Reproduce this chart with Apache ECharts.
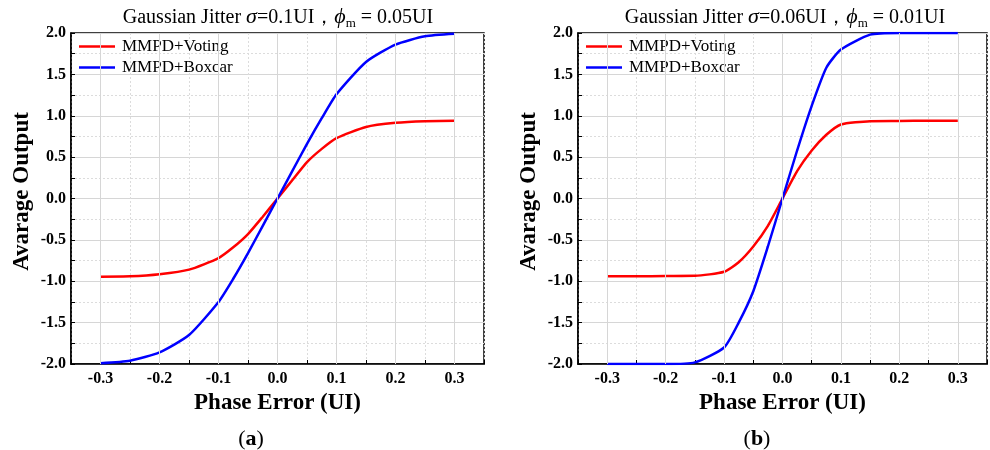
<!DOCTYPE html>
<html>
<head>
<meta charset="utf-8">
<script src="https://cdn.jsdelivr.net/npm/echarts@6/dist/echarts.min.js"></script>
<style>
  html, body { margin: 0; padding: 0; background: #fff; }
  #main { width: 990px; height: 450px; }
</style>
</head>
<body>
<div id="main"></div>
<script>
// phase error points (UI)
var phase = [-0.3, -0.25, -0.2, -0.15, -0.1, -0.075, -0.05, -0.025, 0, 0.025, 0.05, 0.075, 0.1, 0.15, 0.2, 0.25, 0.3];

// (a) sigma=0.1UI, phi_m=0.05UI
var votingA = [-0.945, -0.94, -0.915, -0.86, -0.72, -0.59, -0.43, -0.22, 0, 0.22, 0.44, 0.6, 0.73, 0.865, 0.915, 0.935, 0.94];
var boxcarA = [-1.99, -1.96, -1.86, -1.65, -1.25, -0.97, -0.66, -0.33, 0, 0.33, 0.66, 0.97, 1.26, 1.65, 1.86, 1.96, 1.99];

// (b) sigma=0.06UI, phi_m=0.01UI
var votingB = [-0.94, -0.94, -0.937, -0.935, -0.885, -0.77, -0.58, -0.33, 0, 0.33, 0.58, 0.77, 0.895, 0.935, 0.937, 0.94, 0.94];
var boxcarB = [-2.0, -2.0, -2.0, -1.98, -1.8, -1.5, -1.12, -0.58, 0, 0.58, 1.12, 1.58, 1.8, 1.98, 2.0, 2.0, 2.0];

// major x grid / tick labels
var xMajor = [-0.3, -0.2, -0.1, 0, 0.1, 0.2, 0.3];
var xTickLabels = ['-0.3', '-0.2', '-0.1', '0.0', '0.1', '0.2', '0.3'];

var serif = 'Liberation Serif, Times New Roman, serif';

function pairs(ys) {
  return phase.map(function (x, i) { return [x, ys[i]]; });
}

function xLabel(v) {
  for (var i = 0; i < xMajor.length; i++) {
    if (Math.abs(v - xMajor[i]) < 1e-6) return xTickLabels[i];
  }
  return '';
}

function makeXAxis(idx) {
  return {
    gridIndex: idx,
    type: 'value',
    min: -0.35,
    max: 0.35,
    interval: 0.05,
    name: 'Phase Error (UI)',
    nameLocation: 'middle',
    nameGap: 28,
    nameTextStyle: { fontFamily: serif, fontWeight: 'bold', fontSize: 23, color: '#000' },
    axisLine: { onZero: false, lineStyle: { color: '#000', width: 1.5 } },
    axisTick: { inside: true, length: 4, lineStyle: { color: '#000', width: 1 } },
    axisLabel: { formatter: xLabel, fontFamily: serif, fontWeight: 'bold', fontSize: 16, color: '#000', margin: 7 },
    splitLine: { show: true, lineStyle: { color: '#dcdcdc', type: [2, 2], width: 1 } }
  };
}

function makeYAxis(idx) {
  return {
    gridIndex: idx,
    type: 'value',
    min: -2,
    max: 2,
    interval: 0.5,
    name: 'Avarage Output',
    nameLocation: 'middle',
    nameGap: 37,
    nameTextStyle: { fontFamily: serif, fontWeight: 'bold', fontSize: 23, color: '#000', padding: [0, 0, 0, 14] },
    axisLine: { onZero: false, lineStyle: { color: '#000', width: 1.5 } },
    axisTick: { inside: true, length: 4, lineStyle: { color: '#000', width: 1 } },
    minorTick: { show: true, splitNumber: 2, length: 4, lineStyle: { color: '#000', width: 1 } },
    axisLabel: {
      formatter: function (v) { return v.toFixed(1); },
      fontFamily: serif, fontWeight: 'bold', fontSize: 16, color: '#000', margin: 5
    },
    splitLine: { show: true, lineStyle: { color: '#d6d6d6', width: 1 } },
    minorSplitLine: { show: true, lineStyle: { color: '#dcdcdc', type: [2, 2], width: 1 } }
  };
}

function majorGrid(idx) {
  return {
    type: 'line',
    xAxisIndex: idx,
    yAxisIndex: idx,
    data: [],
    silent: true,
    z: 1,
    markLine: {
      silent: true,
      symbol: 'none',
      label: { show: false },
      animation: false,
      lineStyle: { color: '#d6d6d6', type: 'solid', width: 1 },
      data: xMajor.map(function (v) { return { xAxis: v }; })
    }
  };
}

function curve(name, idx, ys, color) {
  return {
    name: name,
    type: 'line',
    xAxisIndex: idx,
    yAxisIndex: idx,
    data: pairs(ys),
    showSymbol: false,
    smooth: 0.2,
    z: 3,
    lineStyle: { color: color, width: 2.5 },
    itemStyle: { color: color }
  };
}

function titleText(sig, phi) {
  return '{n|Gaussian Jitter }{i|σ}{n|=' + sig + 'UI，}{i|ϕ}{s|m}{n| = ' + phi + 'UI}';
}

var titleRich = {
  n: { fontFamily: serif, fontSize: 20, fontWeight: 'normal', color: '#000' },
  i: { fontFamily: serif, fontSize: 22, fontWeight: 'normal', fontStyle: 'italic', color: '#000' },
  s: { fontFamily: serif, fontSize: 13, fontWeight: 'normal', color: '#000', padding: [12, 0, 0, 0] }
};

var capRich = {
  p: { fontFamily: serif, fontSize: 22, fontWeight: 'normal', color: '#000' },
  b: { fontFamily: serif, fontSize: 22, fontWeight: 'bold', color: '#000' }
};

var legendBase = {
  orient: 'vertical',
  icon: 'rect',
  itemWidth: 36,
  itemHeight: 2.5,
  itemGap: 4,
  textStyle: { fontFamily: serif, fontSize: 17, color: '#000', padding: [0, 0, 0, 2] },
  data: ['MMPD+Voting', 'MMPD+Boxcar']
};

var chart = echarts.init(document.getElementById('main'), null, { renderer: 'canvas' });

var option = {
  animation: false,
  backgroundColor: '#fff',
  title: [
    { text: titleText('0.1', '0.05'), left: 273, top: 0, textAlign: 'center', textStyle: { rich: titleRich } },
    { text: titleText('0.06', '0.01'), left: 780, top: 0, textAlign: 'center', textStyle: { rich: titleRich } },
    { text: '{p|(}{b|a}{p|)}', left: 246, top: 423, textAlign: 'center', textStyle: { rich: capRich } },
    { text: '{p|(}{b|b}{p|)}', left: 752, top: 423, textAlign: 'center', textStyle: { rich: capRich } }
  ],
  legend: [
    Object.assign({ left: 74, top: 33 }, legendBase),
    Object.assign({ left: 581, top: 33 }, legendBase)
  ],
  grid: [
    { left: 71, right: 506, top: 33, bottom: 86, show: true, borderColor: '#000', borderWidth: 1.5, backgroundColor: 'transparent' },
    { left: 578, right: 3, top: 33, bottom: 86, show: true, borderColor: '#000', borderWidth: 1.5, backgroundColor: 'transparent' }
  ],
  xAxis: [makeXAxis(0), makeXAxis(1)],
  yAxis: [makeYAxis(0), makeYAxis(1)],
  series: [
    majorGrid(0),
    majorGrid(1),
    curve('MMPD+Voting', 0, votingA, '#ff0000'),
    curve('MMPD+Boxcar', 0, boxcarA, '#0000ff'),
    curve('MMPD+Voting', 1, votingB, '#ff0000'),
    curve('MMPD+Boxcar', 1, boxcarB, '#0000ff')
  ]
};

chart.setOption(option);
</script>
</body>
</html>
